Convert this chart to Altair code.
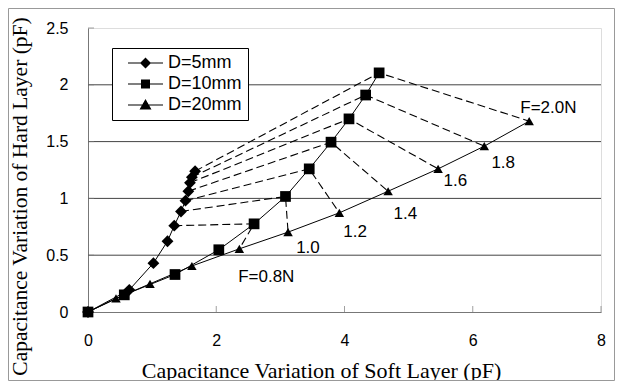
import altair as alt
import pandas as pd

# ---------------- data ----------------
force = [0.0, 0.2, 0.4, 0.6, 0.8, 1.0, 1.2, 1.4, 1.6, 1.8, 2.0]
soft_d5 = [0, 0.644, 1.02, 1.24, 1.345, 1.45, 1.52, 1.565, 1.59, 1.62, 1.67]
hard_d5 = [0, 0.195, 0.43, 0.623, 0.76, 0.885, 0.98, 1.063, 1.137, 1.187, 1.24]
soft_d10 = [0, 0.566, 1.357, 2.04, 2.59, 3.08, 3.45, 3.79, 4.07, 4.33, 4.54]
hard_d10 = [0, 0.151, 0.33, 0.548, 0.776, 1.017, 1.26, 1.495, 1.70, 1.91, 2.105]
soft_d20 = [0, 0.437, 0.967, 1.62, 2.36, 3.12, 3.92, 4.68, 5.46, 6.18, 6.88]
hard_d20 = [0, 0.119, 0.248, 0.405, 0.556, 0.703, 0.873, 1.063, 1.26, 1.46, 1.68]
series_names = ["D=5mm", "D=10mm", "D=20mm"]
gap_mm = [5, 10, 20]

label_text = ["F=0.8N", "1.0", "1.2", "1.4", "1.6", "1.8", "F=2.0N"]
label_soft = [2.78, 3.43, 4.165, 4.95, 5.73, 6.475, 7.18]
label_hard = [0.304, 0.559, 0.70, 0.867, 1.157, 1.316, 1.80]

x_ticks = [0, 2, 4, 6, 8]
y_ticks = [0, 0.5, 1, 1.5, 2, 2.5]
grid_vals = [0.5, 1, 1.5, 2]

# ---------------- tables ----------------
rows = []
for name, gap, sx, hy in zip(series_names, gap_mm,
                             [soft_d5, soft_d10, soft_d20],
                             [hard_d5, hard_d10, hard_d20]):
    for f, s, h in zip(force, sx, hy):
        rows.append({"series": name, "leg": name, "gap": gap, "F": f, "soft": s, "hard": h})
df = pd.DataFrame(rows)
dash_df = df[df["F"] >= 0.79].copy()
leg_df = df[df["F"] == 0].copy()
lab_df = pd.DataFrame({"t": label_text, "soft": label_soft, "hard": label_hard})
grid_df = pd.DataFrame({"hard": grid_vals})
xt_df = pd.DataFrame({"soft": x_ticks})
yt_df = pd.DataFrame({"hard": y_ticks})

W, H = 513, 284
SANS = "Liberation Sans"
SERIF = "Liberation Serif"

common_axis = dict(grid=False, ticks=False, labelPadding=20, labelFlush=False, format="~g",
                   domainColor="#777777", domainWidth=1,
                   labelFont=SANS, labelFontSize=16, labelColor="black",
                   titleFont=SERIF, titleFontWeight="normal",
                   titleColor="black", titleAlign="center", titleBaseline="alphabetic")

xs = alt.Scale(domain=[0, 8], nice=False, zero=False)
ys = alt.Scale(domain=[0, 2.5], nice=False, zero=False)
xaxis = alt.Axis(title="Capacitance Variation of Soft Layer (pF)", values=x_ticks,
                 titleX=233, titleY=65, titleFontSize=22, **common_axis)
yaxis = alt.Axis(title="Capacitance Variation of Hard Layer (pF)", values=y_ticks,
                 titleX=-62, titleY=168, titleAngle=270, titleFontSize=21.5, **common_axis)


def X(field="soft"):
    return alt.X(f"{field}:Q", scale=xs, axis=xaxis)


def Y(field="hard"):
    return alt.Y(f"{field}:Q", scale=ys, axis=yaxis)


grid = alt.Chart(grid_df).mark_rule(color="#444444", strokeWidth=1).encode(y=Y())

xticks = alt.Chart(xt_df).mark_tick(orient="vertical", size=6, thickness=1, yOffset=-3,
                                    color="#777777").encode(x=X(), y=alt.datum(0))
yticks = alt.Chart(yt_df).mark_tick(orient="horizontal", size=6, thickness=1, xOffset=3,
                                    color="#777777").encode(y=Y(), x=alt.datum(0))

dashed = alt.Chart(dash_df).mark_line(color="black", strokeWidth=1.1, strokeDash=[8, 4]).encode(
    x=X(), y=Y(), detail="F:N", order="gap:Q")

solid = alt.Chart(df).mark_line(color="black", strokeWidth=1).encode(
    x=X(), y=Y(), detail="series:N", order="F:Q")

points = alt.Chart(df).mark_point(filled=True, color="black", opacity=1).encode(
    x=X(), y=Y(),
    shape=alt.Shape("series:N", scale=alt.Scale(domain=series_names,
                                                range=["diamond", "square", "triangle-up"]),
                    legend=None),
    size=alt.Size("series:N", scale=alt.Scale(domain=series_names, range=[140, 90, 180]),
                  legend=None))

# legend symbols: a thin filled bar (the line) plus the filled marker
bar = "M-0.6,-0.022H0.8V0.022H-0.6Z"
leg_paths = [
    bar + "M0.1,-0.22L0.32,0L0.1,0.22L-0.12,0Z",
    bar + "M-0.08,-0.18H0.28V0.18H-0.08Z",
    bar + "M0.1,-0.24L0.34,0.18L-0.14,0.18Z",
]
# legend-only layer: its rows are filtered out, the explicit domain keeps the legend
legend_layer = alt.Chart(leg_df).transform_filter("datum.F < 0").mark_point(
    filled=True, color="black").encode(
    x=X(), y=Y(),
    shape=alt.Shape("leg:N", scale=alt.Scale(domain=series_names, range=leg_paths),
                    legend=alt.Legend(
                        title=None, orient="none", legendX=24, legendY=20,
                        padding=6, strokeColor="black", fillColor="white",
                        symbolSize=2500, symbolFillColor="black",
                        symbolStrokeWidth=0, symbolOpacity=1,
                        labelFont=SANS, labelFontSize=18,
                        labelColor="black", clipHeight=18, rowPadding=3,
                        labelOffset=0, symbolOffset=0)))

labels = alt.Chart(lab_df).mark_text(font=SANS, fontSize=17, color="black",
                                     align="center", baseline="middle").encode(
    x=X(), y=Y(), text="t:N")

frame = alt.Chart(pd.DataFrame({"a": [0]})).mark_rect(
    fill="white", fillOpacity=0, stroke="#999999", strokeWidth=1).encode(
    x=alt.value(-79.5), x2=alt.value(526.5), y=alt.value(-19.5), y2=alt.value(352.5))

chart = alt.layer(grid, xticks, yticks, dashed, solid, points, labels, legend_layer, frame).resolve_scale(
    shape="independent", size="independent"
).properties(
    width=W, height=H,
    autosize=alt.AutoSizeParams(type="none"),
    padding={"left": 80, "top": 20, "right": 14, "bottom": 69},
).configure_view(
    stroke="#999999", strokeWidth=1
).configure(background="white")

chart.save("out.html", embed_options={"renderer": "svg", "actions": False})
